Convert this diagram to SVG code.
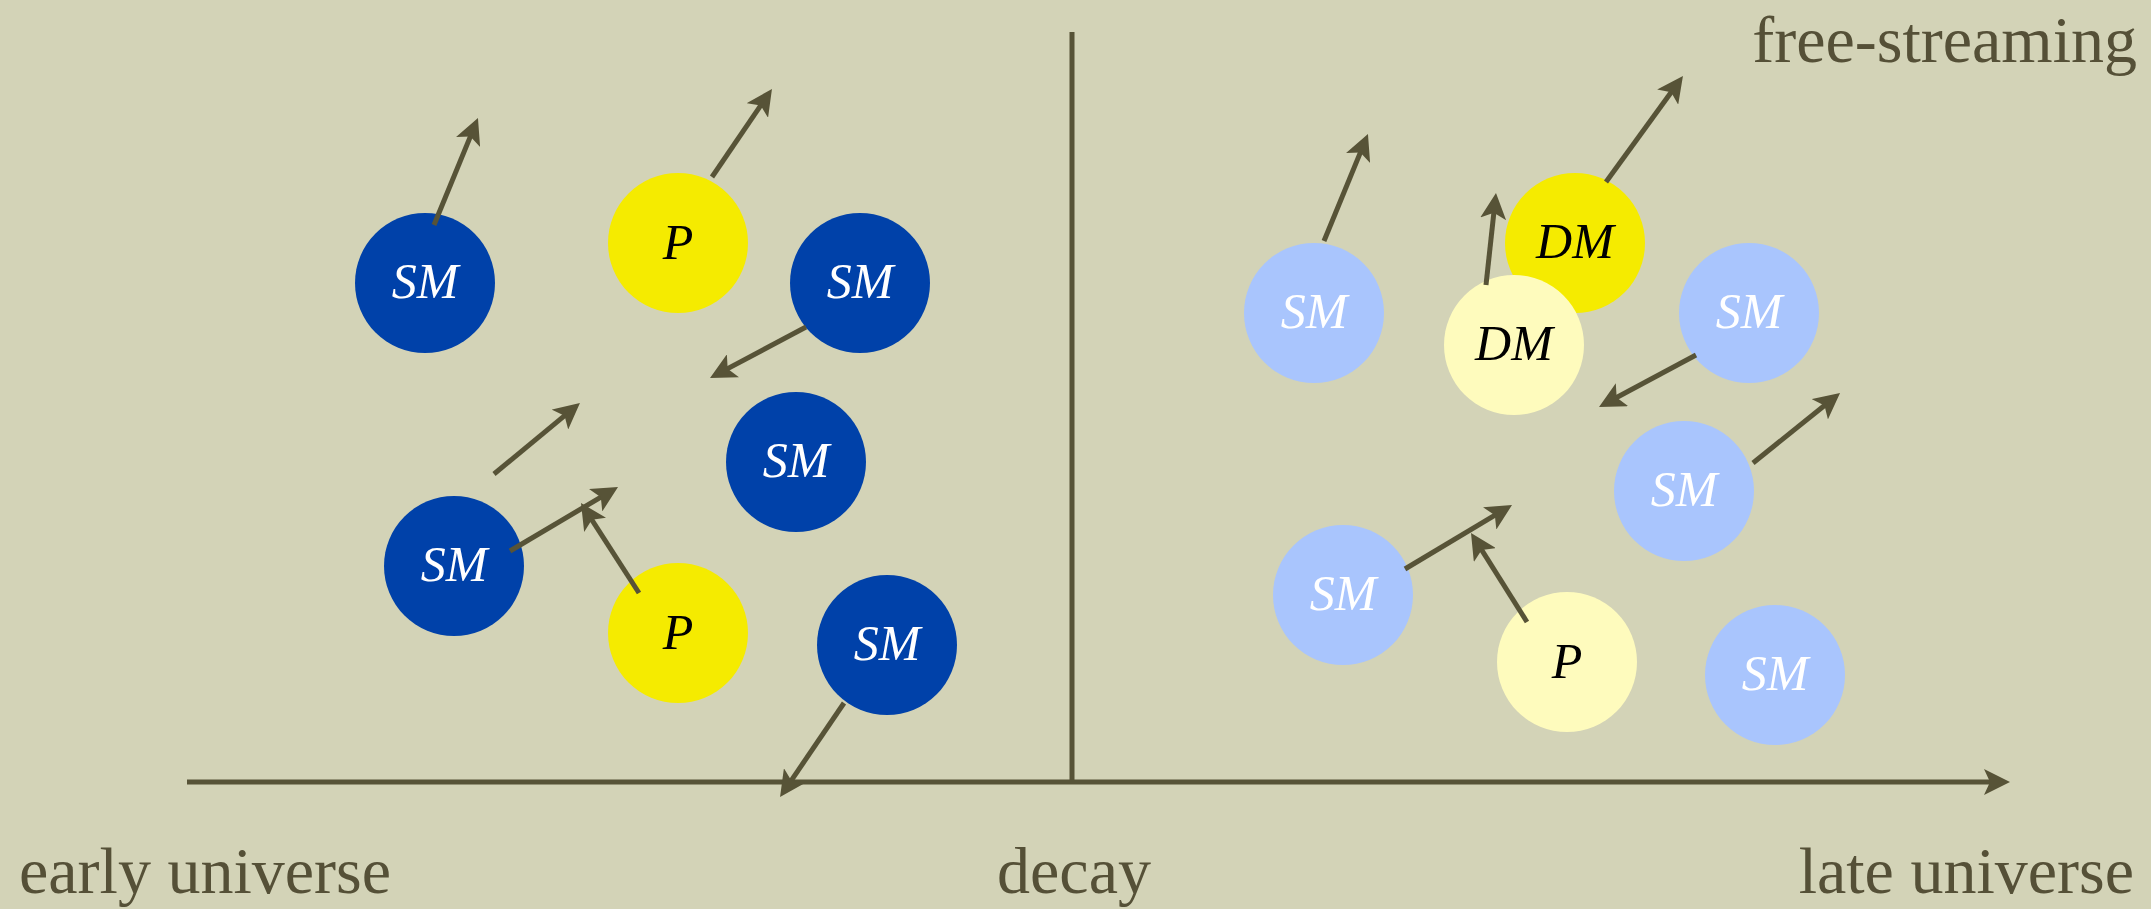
<svg xmlns="http://www.w3.org/2000/svg" width="2151" height="909" viewBox="0 0 2151 909">
<style>
.bg{fill:#d3d3b7}
.sm{fill:#0041a9}
.smL{fill:#a9c5fd}
.y{fill:#f5eb00}
.yL{fill:#fefbbd}
.lbl{font-family:"Liberation Serif","Times New Roman",serif;font-style:italic;font-size:50px;text-anchor:middle}
.w{fill:#ffffff}
.k{fill:#000000}
.cap{font-family:"Liberation Serif","Times New Roman",serif;font-size:66px;fill:#555037}
.ln{stroke:#575337;stroke-width:5;fill:none}
</style>
<defs>
<marker id="ah" viewBox="0 0 26 26" refX="14" refY="13" markerWidth="26" markerHeight="26" markerUnits="userSpaceOnUse" orient="auto">
<path d="M0,0 L26,13 L0,26 L6,13 Z" fill="#575337"/>
</marker>
</defs>
<rect class="bg" x="0" y="0" width="2151" height="909"/>
<g id="axes">
<line class="ln" x1="1072" y1="32" x2="1072" y2="784" stroke-width="6"/>
<line class="ln" x1="187" y1="782" x2="1998" y2="782" stroke-width="6" marker-end="url(#ah)"/>
</g>
<g id="sm1"><circle class="sm" cx="425" cy="283" r="70"/><text class="lbl w" x="425" y="298">SM</text></g>
<g id="p1"><circle class="y" cx="678" cy="243" r="70"/><text class="lbl k" x="678" y="259">P</text></g>
<g id="sm2"><circle class="sm" cx="860" cy="283" r="70"/><text class="lbl w" x="860" y="298">SM</text></g>
<g id="sm3"><circle class="sm" cx="796" cy="462" r="70"/><text class="lbl w" x="796" y="477">SM</text></g>
<g id="sm4"><circle class="sm" cx="454" cy="566" r="70"/><text class="lbl w" x="454" y="581">SM</text></g>
<g id="p2"><circle class="y" cx="678" cy="633" r="70"/><text class="lbl k" x="678" y="649">P</text></g>
<g id="sm5"><circle class="sm" cx="887" cy="645" r="70"/><text class="lbl w" x="887" y="660">SM</text></g>
<g id="sm6"><circle class="smL" cx="1314" cy="313" r="70"/><text class="lbl w" x="1314" y="328">SM</text></g>
<g id="dm1"><circle class="y" cx="1575" cy="243" r="70"/><text class="lbl k" x="1575" y="258">DM</text></g>
<g id="dm2"><circle class="yL" cx="1514" cy="345" r="70"/><text class="lbl k" x="1514" y="360">DM</text></g>
<g id="sm7"><circle class="smL" cx="1749" cy="313" r="70"/><text class="lbl w" x="1749" y="328">SM</text></g>
<g id="sm8"><circle class="smL" cx="1684" cy="491" r="70"/><text class="lbl w" x="1684" y="506">SM</text></g>
<g id="sm9"><circle class="smL" cx="1343" cy="595" r="70"/><text class="lbl w" x="1343" y="610">SM</text></g>
<g id="p3"><circle class="yL" cx="1567" cy="662" r="70"/><text class="lbl k" x="1567" y="678">P</text></g>
<g id="sm10"><circle class="smL" cx="1775" cy="675" r="70"/><text class="lbl w" x="1775" y="690">SM</text></g>
<g id="connectors" class="ln" marker-end="url(#ah)">
<line class="ln" x1="434" y1="225" x2="473.4" y2="129.1" marker-end="url(#ah)"/>
<line class="ln" x1="712" y1="177" x2="765.2" y2="98.9" marker-end="url(#ah)"/>
<line class="ln" x1="806" y1="327" x2="720.6" y2="372.4" marker-end="url(#ah)"/>
<line class="ln" x1="494" y1="474" x2="570.7" y2="410.6" marker-end="url(#ah)"/>
<line class="ln" x1="510" y1="551" x2="607.7" y2="493.1" marker-end="url(#ah)"/>
<line class="ln" x1="639" y1="593" x2="587.5" y2="513.1" marker-end="url(#ah)"/>
<line class="ln" x1="844" y1="703" x2="786.8" y2="787.1" marker-end="url(#ah)"/>
<line class="ln" x1="1324" y1="241" x2="1363.4" y2="145.1" marker-end="url(#ah)"/>
<line class="ln" x1="1606" y1="182" x2="1675.9" y2="85.7" marker-end="url(#ah)"/>
<line class="ln" x1="1486" y1="285" x2="1494.7" y2="204.9" marker-end="url(#ah)"/>
<line class="ln" x1="1696" y1="355" x2="1609.6" y2="401.3" marker-end="url(#ah)"/>
<line class="ln" x1="1753" y1="463" x2="1830.7" y2="400.5" marker-end="url(#ah)"/>
<line class="ln" x1="1405" y1="569" x2="1501.7" y2="511.2" marker-end="url(#ah)"/>
<line class="ln" x1="1527" y1="622" x2="1477.4" y2="543.2" marker-end="url(#ah)"/>
</g>
<g id="labels">
<text class="cap" x="2137" y="62" text-anchor="end" font-size="67">free-streaming</text>
<text class="cap" x="19" y="893">early universe</text>
<text class="cap" x="1074" y="893" text-anchor="middle">decay</text>
<text class="cap" x="2134" y="893" text-anchor="end">late universe</text>
</g>
</svg>
